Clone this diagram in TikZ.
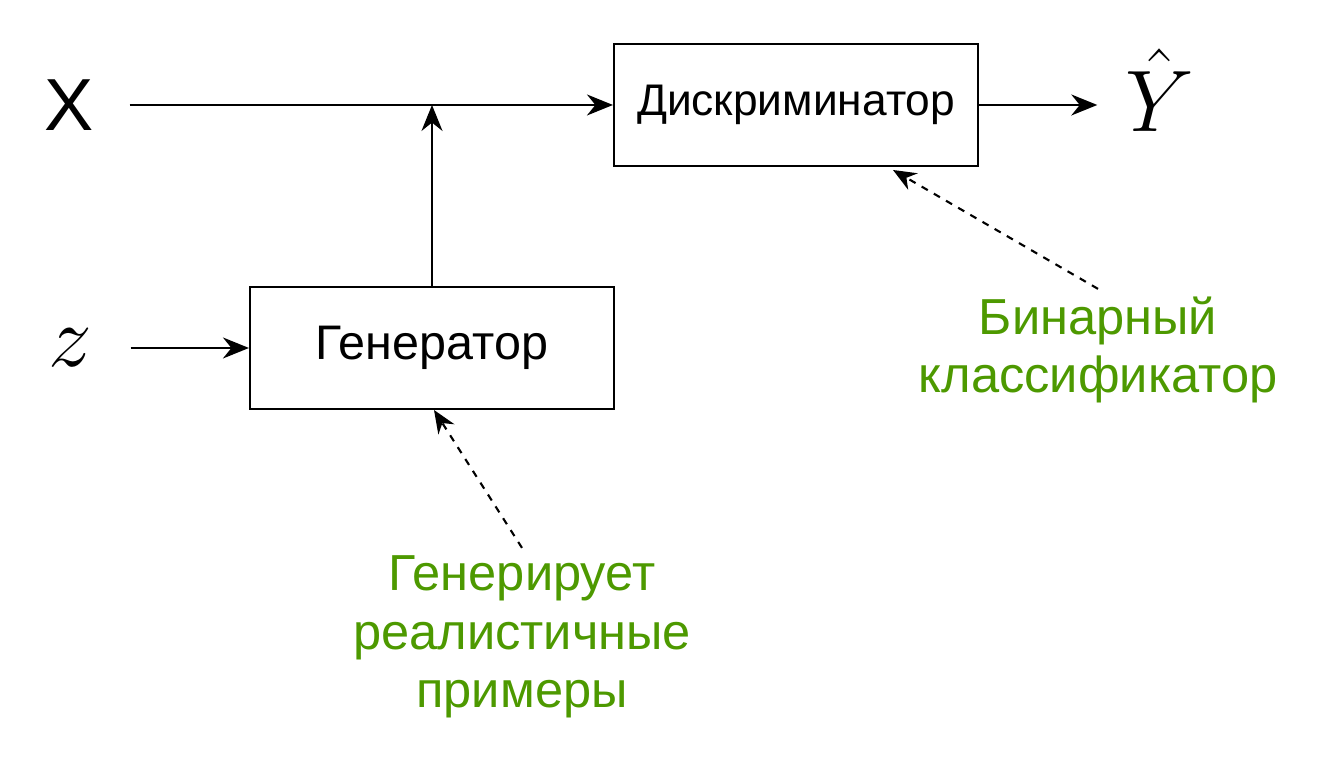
\documentclass[tikz,border=0pt]{standalone}
\usepackage{fontspec}
\setmainfont{Liberation Sans}
\usepackage{amsmath}
\usepackage{tikz}
\usetikzlibrary{arrows.meta}

\definecolor{notegreen}{HTML}{4D9900}

\tikzset{
    block/.style={draw, line width=0.6pt, minimum width=3.64cm, minimum height=1.22cm, inner sep=0pt, font=\fontsize{13.8}{16}\selectfont},
    note/.style={text=notegreen, align=center, inner sep=2pt, font=\fontsize{14.4}{16.7}\selectfont},
    arr/.style={-{Stealth[length=2.6mm, width=2.1mm]}, line width=0.6pt},
    hint/.style={-{Stealth[length=2.3mm, width=1.9mm]}, line width=0.6pt, dash pattern=on 2pt off 2pt}
}

\begin{document}
\begin{tikzpicture}
    \useasboundingbox (0, 0) rectangle (13.36, 7.6);

    \node[block, font=\fontsize{12.6}{15}\selectfont] (D) at (7.96, 6.55){Дискриминатор};
    \node[block] (G) at (4.32, 4.12){Генератор};
    \node[minimum width=1.2cm, inner sep=0pt, font=\fontsize{21}{24}\selectfont] (X) at (0.69, 6.55){X};
    \node[minimum width=1.2cm, inner sep=0pt] (z) at (0.70, 4.12){\fontsize{24}{26}\selectfont$z$};
    \node[minimum width=1.24cm, inner sep=0pt] (Y) at (11.60, 6.70){\fontsize{25}{27}\selectfont$\hat{Y}$};
    \coordinate (J) at (4.32, 6.55);

    \node[note] (B) at (10.98, 4.10){Бинарный\\классификатор};
    \node[note] (P) at (5.22, 1.23){Генерирует\\реалистичные\\примеры};
    \coordinate (Dtip) at (8.93, 5.90);
    \coordinate (Gtip) at (4.34, 3.50);

    \draw[arr] (X)--(D);
    \draw[arr] (G)--(J);
    \draw[arr] (D)--(Y.west |- D);
    \draw[arr] (z)--(G);
    \draw[hint] (B.north)--(Dtip);
    \draw[hint] (P.north)--(Gtip);
\end{tikzpicture}
\end{document}
